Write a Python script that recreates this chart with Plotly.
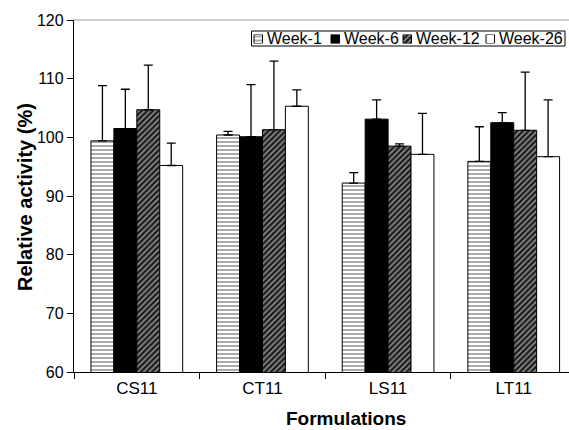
import plotly.graph_objects as go

categories = ["CS11", "CT11", "LS11", "LT11"]
series_names = ["Week-1", "Week-6", "Week-12", "Week-26"]
week1 = [99.4, 100.4, 92.2, 95.9]
week1_err = [9.4, 0.6, 1.8, 5.9]
week6 = [101.5, 100.1, 103.1, 102.5]
week6_err = [6.7, 8.9, 3.3, 1.7]
week12 = [104.7, 101.3, 98.5, 101.2]
week12_err = [7.6, 11.7, 0.4, 9.9]
week26 = [95.2, 105.3, 97.1, 96.7]
week26_err = [3.8, 2.8, 7.0, 9.7]

values = [week1, week6, week12, week26]
errors = [week1_err, week6_err, week12_err, week26_err]

patterns = [
    dict(shape="-", bgcolor="white", fgcolor="#555", size=4, solidity=0.25, fillmode="replace"),
    dict(shape=""),
    dict(shape="/", bgcolor="#8a8a8a", fgcolor="#1a1a1a", size=4, solidity=0.55, fillmode="replace"),
    dict(shape=""),
]
colors = ["white", "black", "#555", "white"]

W, H = 569, 430
ML, MR, MT, MB = 74, 0, 20, 58
PW, PH = W - ML - MR, H - MT - MB

fig = go.Figure()
for name, v, e, p, c in zip(series_names, values, errors, patterns, colors):
    fig.add_trace(go.Bar(
        x=categories, y=v, name=name, showlegend=False,
        marker=dict(color=c, line=dict(color="black", width=1), pattern=p),
        error_y=dict(type="data", array=e, arrayminus=[0] * len(e), symmetric=False,
                     color="black", thickness=1.3, width=4.5),
    ))

# Manual legend (swatches drawn as bars on a hidden pixel-space axis)
sw_left = [254, 331, 403, 486]
txt_left = [266, 343, 415, 498]
sw_w = 8.5
sw_top, sw_bot = 34.5, 43.5
for name, p, c, xl in zip(series_names, patterns, colors, sw_left):
    fig.add_trace(go.Bar(
        x=[xl + sw_w / 2], y=[1], width=[sw_w], xaxis="x2", yaxis="y2",
        showlegend=False, hoverinfo="skip",
        marker=dict(color=c, line=dict(color="black", width=1), pattern=p),
    ))

annotations = []
for name, xt in zip(series_names, txt_left):
    annotations.append(dict(
        text=name, x=(xt - ML) / PW, xref="paper", y=1 - ((sw_top + sw_bot) / 2 - MT) / PH,
        yref="paper", xanchor="left", yanchor="middle", showarrow=False,
        font=dict(size=16), xshift=-1))
annotations.append(dict(text="<b>Formulations</b>", x=(346 - ML) / PW, xref="paper",
                        y=-(418 - (H - MB)) / PH, yref="paper", xanchor="center",
                        yanchor="middle", showarrow=False, font=dict(size=19)))
annotations.append(dict(text="<b>Relative activity (%)</b>", x=-(ML - 25) / PW, xref="paper",
                        y=1 - (197 - MT) / PH, yref="paper", xanchor="center",
                        yanchor="middle", showarrow=False, textangle=-90, font=dict(size=20)))

fig.update_layout(
    width=W, height=H,
    margin=dict(l=ML, r=MR, t=MT, b=MB),
    paper_bgcolor="white", plot_bgcolor="rgba(0,0,0,0)",
    barmode="group", bargap=0.27, bargroupgap=0,
    font=dict(family="Liberation Sans, Arial, sans-serif", size=16, color="black"),
    showlegend=False,
    annotations=annotations,
    xaxis=dict(range=[-0.5, 3.44], showline=True, linecolor="black", linewidth=1.3,
               ticks="outside", tickson="boundaries", ticklen=6, tickcolor="black",
               showgrid=False, tickfont=dict(size=17)),
    yaxis=dict(range=[60, 120], dtick=10, showline=True, linecolor="black", linewidth=1.3,
               ticks="outside", ticklen=6, tickcolor="black", showgrid=False, zeroline=False,
               tickfont=dict(size=16)),
    xaxis2=dict(domain=[0, 1], range=[ML, W], anchor="y2", visible=False, fixedrange=True),
    yaxis2=dict(domain=[(H - MB - sw_bot) / PH, (H - MB - sw_top) / PH], range=[0, 1],
                anchor="x2", visible=False, fixedrange=True),
)
fig.add_shape(type="line", xref="paper", yref="paper", x0=0, x1=1, y0=1, y1=1,
              line=dict(color="#999", width=1))
fig.add_shape(type="rect", xref="paper", yref="paper", layer="below",
              x0=(251.5 - ML) / PW, x1=(565 - ML) / PW,
              y0=1 - (46 - MT) / PH, y1=1 - (31 - MT) / PH,
              line=dict(color="black", width=1), fillcolor="white")

fig.write_html("out.html")
